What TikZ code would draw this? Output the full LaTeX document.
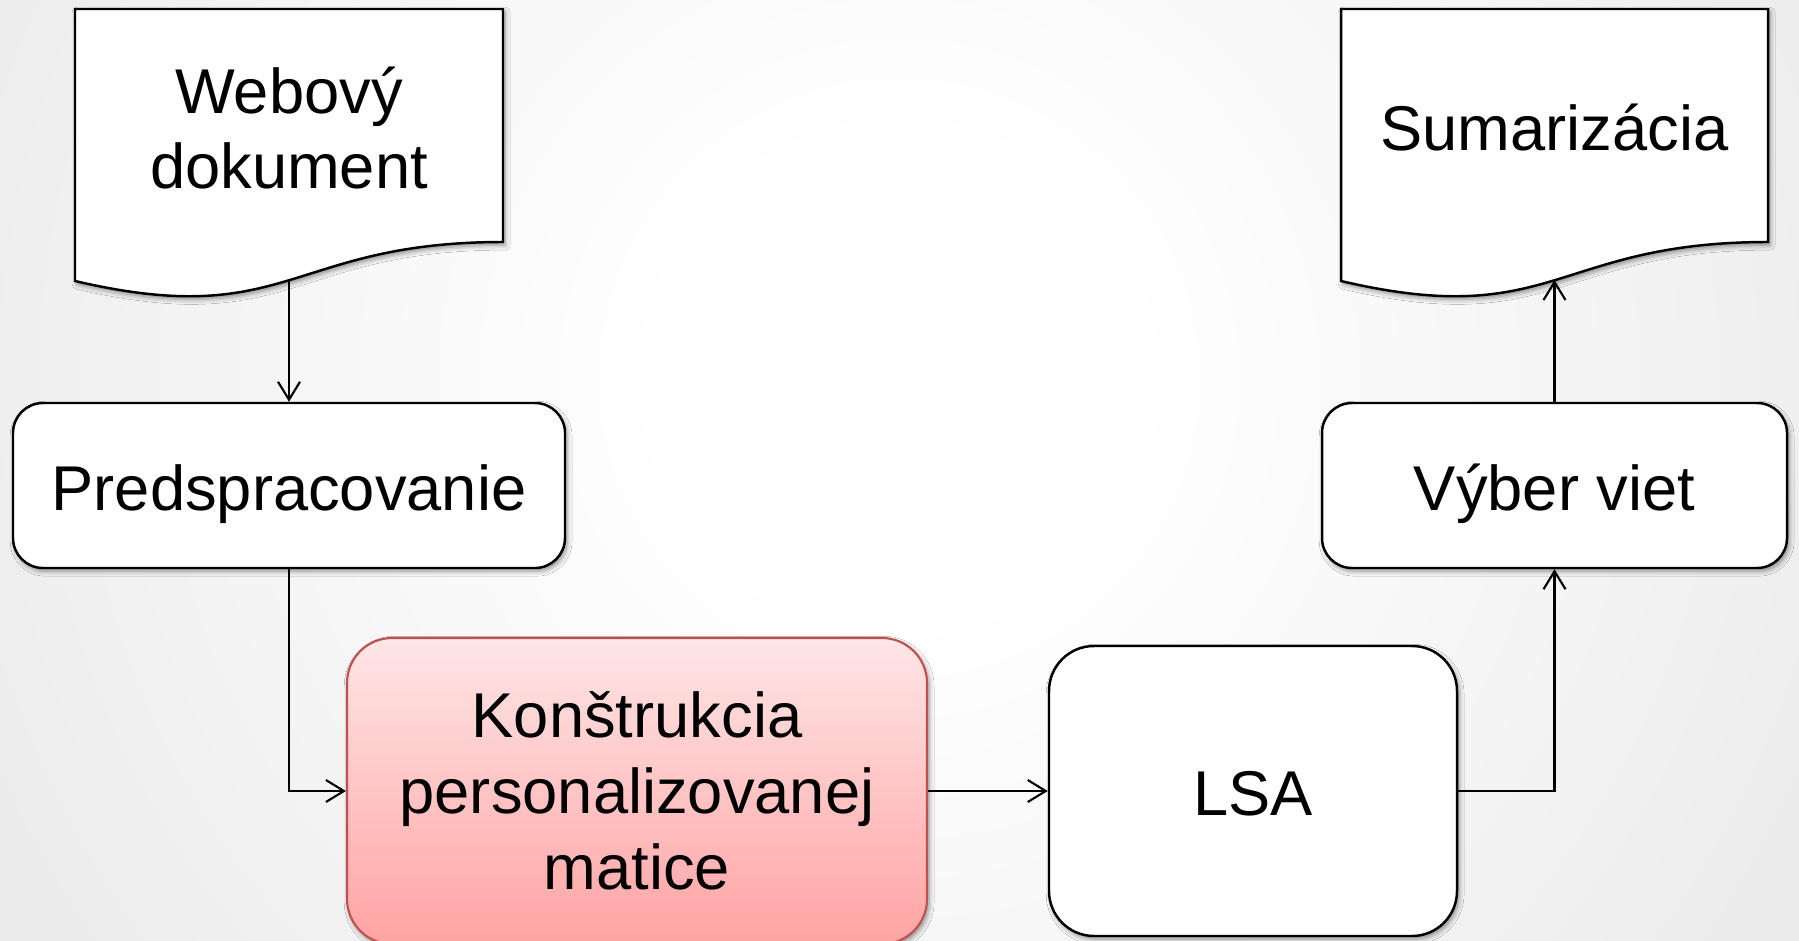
\documentclass[tikz,border=0pt]{standalone}
\usepackage{fontspec}
\setmainfont{Liberation Sans}
\usetikzlibrary{arrows.meta,shadows.blur}
\definecolor{bggray}{RGB}{236,236,236}
\definecolor{pinktop}{RGB}{255,230,230}
\definecolor{pinkbot}{RGB}{255,163,163}
\definecolor{pinkline}{RGB}{192,80,77}
\pgfdeclareradialshading{bgglow}{\pgfpoint{0bp}{0bp}}{color(0bp)=(white); color(6bp)=(white); color(25bp)=(bggray); color(50bp)=(bggray)}
\tikzset{
         boxshadow/.style={blur shadow={shadow xshift=0.6pt, shadow yshift=-0.9pt, shadow blur radius=1.4pt, shadow opacity=45}},
         stagebox/.style={draw=black, line width=0.7pt, fill=white, rounded corners=0.3cm,
                          minimum height=1.65cm, inner sep=0pt, text height=18pt, text depth=4pt,
                          font=\fontsize{18}{21.6}\selectfont, boxshadow},
         matrixbox/.style={draw=pinkline, line width=0.6pt, top color=pinktop, bottom color=pinkbot,
                           rounded corners=0.45cm, minimum width=5.80cm, minimum height=3.06cm, inner sep=0pt,
                           align=center, font=\fontsize{18}{21.6}\selectfont, boxshadow},
         docline/.style={draw=black, line width=0.7pt, fill=white, boxshadow},
         doctext/.style={align=center, inner sep=0pt, font=\fontsize{18}{21.6}\selectfont},
         flow/.style={line width=0.6pt, -{Straight Barb[length=1.8mm,width=2.2mm]}}
        }
\begin{document}
\begin{tikzpicture}
\useasboundingbox (0,0) rectangle (17.99,9.40);
\shade[shading=bgglow] (-1.01,-4.38) rectangle (18.99,15.62); %background

\draw[docline] (0.75,9.31)--(5.03,9.31)--(5.03,6.98) .. controls (2.89,6.98) and (2.89,6.09) .. (0.75,6.59)--cycle; %input document
\coordinate (webtip) at (2.89,6.60);
\node[doctext] (web) at (2.89,8.12) {Webový\\dokument};

\draw[docline] (13.41,9.31)--(17.68,9.31)--(17.68,6.98) .. controls (15.545,6.98) and (15.545,6.09) .. (13.41,6.59)--cycle; %output document
\coordinate (sumtip) at (15.545,6.60);
\node[doctext] (sum) at (15.545,8.12) {Sumarizácia};

\node[stagebox, minimum width=5.52cm] (prep) at (2.89,4.545) {Predspracovanie};
\node[stagebox, minimum width=4.65cm] (select) at (15.545,4.545) {Výber viet};
\node[matrixbox] (pmat) at (6.37,1.49) {Konštrukcia\\personalizovanej\\matice}; %highlighted step
\node[stagebox, rounded corners=0.45cm, minimum width=4.08cm, minimum height=2.90cm] (lsa) at (12.53,1.49) {LSA};

\draw[flow] (webtip)--(prep.north);
\draw[flow] (prep.south) |- (pmat.west);
\draw[flow] (pmat.east)--(lsa.west);
\draw[flow] (lsa.east) -| (select.south);
\draw[flow] (select.north)--(sumtip);
\end{tikzpicture}
\end{document}
